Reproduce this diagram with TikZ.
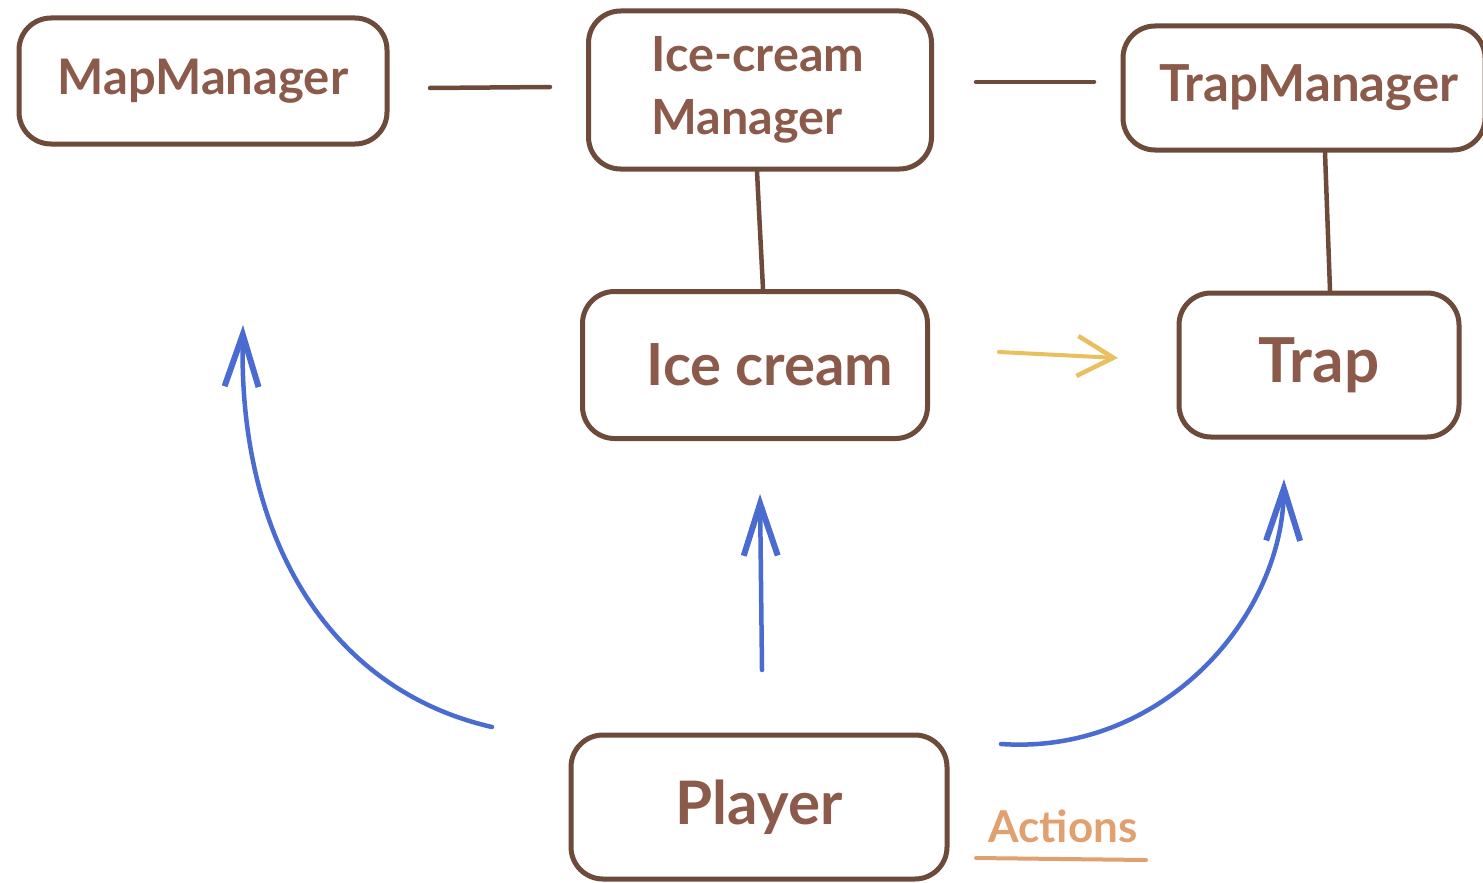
\documentclass[tikz,border=0pt]{standalone}
\usepackage{fontspec}
\setmainfont{Lato}
\usetikzlibrary{arrows.meta}
\definecolor{boxc}{HTML}{6E4A3A}
\definecolor{txtc}{HTML}{8B5A4A}
\definecolor{bluec}{HTML}{4A6BD0}
\definecolor{yelc}{HTML}{E8C060}
\definecolor{actc}{HTML}{E0A070}
\tikzset{
  box/.style={draw=boxc, line width=5pt, rounded corners=32pt, text=txtc, inner sep=0pt},
  link/.style={draw=boxc, line width=4.5pt, line cap=round},
  act/.style={draw=bluec, line width=4.5pt, line cap=round, -{Straight Barb[length=52pt,width=34pt,line width=6pt]}},
  flow/.style={draw=yelc, line width=4pt, line cap=round, -{Straight Barb[length=36pt,width=40pt,line width=4.5pt]}},
}
\begin{document}
\begin{tikzpicture}[x=1pt,y=-1pt]
\useasboundingbox (0,0) rectangle (1483,883);
% boxes
\node[box, minimum width=368pt, minimum height=126pt, font=\bfseries\fontsize{49}{50}\selectfont] (map) at (203,81) {MapManager};
\node[box, minimum width=343pt, minimum height=158pt, font=\bfseries\fontsize{48.5}{63}\selectfont, align=left] (icm) at (760,90) {\hspace*{-4pt}Ice-cream\\\hspace*{-4pt}Manager};
\node[box, minimum width=362pt, minimum height=124pt, font=\bfseries\fontsize{51}{50}\selectfont] (tm) at (1304,88) {\hspace*{10pt}TrapManager};
\node[box, minimum width=345pt, minimum height=147pt, font=\bfseries\fontsize{58}{60}\selectfont] (ice) at (755,365) {\hspace*{30pt}Ice cream};
\node[box, minimum width=280pt, minimum height=144pt, font=\bfseries\fontsize{62}{60}\selectfont] (trap) at (1319,365) {Trap};
\node[box, minimum width=376pt, minimum height=144pt, font=\bfseries\fontsize{60}{60}\selectfont] (player) at (759,807) {Player};
\node[text=actc, font=\bfseries\fontsize{44}{50}\selectfont, inner sep=0pt] (actions) at (1063,826) {Actions};
% manager links
\coordinate (l1a) at (430,88);
\coordinate (l1b) at (550,87);
\coordinate (l2a) at (976,82);
\coordinate (l2b) at (1094,82);
\draw[link] (l1a) -- (l1b);
\draw[link] (l2a) -- (l2b);
\draw[link] (icm.south -| 757,0) -- (ice.north -| 763,0);
\draw[link] (tm.south -| 1325,0) -- (trap.north -| 1330,0);
% yellow arrow
\coordinate (ya) at (999,352);
\coordinate (yb) at (1118,358);
\draw[flow] (ya) -- (yb);
% blue arrows
\coordinate (b1s) at (492,727);
\coordinate (b1e) at (243,325);
\coordinate (b2s) at (762,670);
\coordinate (b2e) at (760,494);
\coordinate (b3s) at (1001,744);
\coordinate (b3e) at (1284,479);
\draw[act] (b1s) .. controls (330,690) and (238,540) .. (b1e);
\draw[act] (b2s) -- (b2e);
\draw[act] (b3s) .. controls (1160,755) and (1282,620) .. (b3e);
% underline
\coordinate (ua) at (976,858);
\coordinate (ub) at (1146,860);
\draw[draw=actc, line width=4pt, line cap=round] (ua) -- (ub);
\end{tikzpicture}
\end{document}
